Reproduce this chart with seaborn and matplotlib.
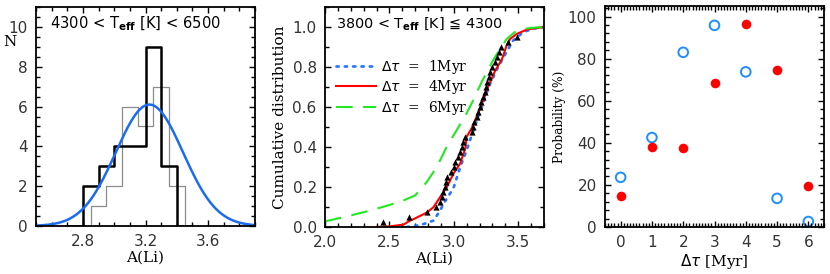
import numpy as np
import pandas as pd
import matplotlib
matplotlib.use("Agg")
import matplotlib.pyplot as plt
import seaborn as sns
from matplotlib.ticker import MultipleLocator

# ---------------- data ----------------
# Panel 1: histograms of A(Li) (empty bins at both ends close the outline)
hist_black_edges = [2.7, 2.8, 2.9, 3.0, 3.1, 3.2, 3.3, 3.4, 3.5]
hist_black_counts = [0, 2, 3, 4, 4, 9, 3, 0]
hist_gray_edges = [2.75, 2.85, 2.95, 3.05, 3.15, 3.25, 3.35, 3.45, 3.55]
hist_gray_counts = [0, 1, 2, 6, 5, 7, 2, 0]
gauss_mean = 3.225
gauss_sigma = 0.215
gauss_amp = 6.1

# Panel 2: cumulative distributions
obs_x = [2.45, 2.65, 2.79, 2.865, 2.89, 2.905, 2.915, 2.93, 2.94, 2.95,
         2.975, 3.00, 3.01, 3.03, 3.045, 3.06, 3.07, 3.085, 3.14, 3.15,
         3.16, 3.18, 3.19, 3.20, 3.21, 3.225, 3.24, 3.25, 3.26, 3.27,
         3.28, 3.295, 3.32, 3.335, 3.35, 3.365, 3.42, 3.49]
obs_y = [0.025, 0.05, 0.075, 0.10, 0.125, 0.15, 0.175, 0.20, 0.225, 0.25,
         0.275, 0.30, 0.325, 0.35, 0.375, 0.40, 0.425, 0.45, 0.475, 0.50,
         0.525, 0.55, 0.575, 0.60, 0.625, 0.65, 0.675, 0.70, 0.725, 0.75,
         0.775, 0.80, 0.825, 0.85, 0.875, 0.90, 0.925, 0.95]

cdf1_x = [2.635, 2.70, 2.765, 2.842, 2.894, 2.92, 2.97, 3.00, 3.05, 3.10,
          3.14, 3.18, 3.23, 3.27, 3.335, 3.40, 3.46, 3.54, 3.62, 3.70]
cdf1_y = [0.0, 0.005, 0.015, 0.032, 0.082, 0.116, 0.167, 0.20, 0.30, 0.385,
          0.461, 0.537, 0.621, 0.70, 0.789, 0.865, 0.932, 0.975, 0.992, 1.0]

cdf4_x = [2.40, 2.50, 2.61, 2.66, 2.69, 2.79, 2.842, 2.894, 2.946, 2.998,
          3.05, 3.089, 3.10, 3.14, 3.19, 3.24, 3.257, 3.32, 3.374, 3.41,
          3.436, 3.49, 3.57, 3.70]
cdf4_y = [0.0, 0.003, 0.012, 0.032, 0.040, 0.072, 0.099, 0.150, 0.20, 0.268,
          0.318, 0.394, 0.452, 0.495, 0.571, 0.654, 0.688, 0.78, 0.84, 0.907,
          0.94, 0.966, 0.988, 1.0]

cdf6_x = [2.0, 2.15, 2.35, 2.50, 2.61, 2.70, 2.79, 2.87, 2.946, 3.024,
          3.10, 3.14, 3.22, 3.31, 3.41, 3.49, 3.59, 3.70]
cdf6_y = [0.028, 0.050, 0.082, 0.110, 0.133, 0.158, 0.225, 0.302, 0.403, 0.486,
          0.570, 0.620, 0.73, 0.84, 0.94, 0.983, 0.995, 1.0]

# Panel 3: probabilities
dtau = [0, 1, 2, 3, 4, 5, 6]
prob_open = [23.6, 42.5, 83.0, 95.8, 73.7, 13.6, 2.6]
prob_filled = [14.6, 38.1, 37.3, 68.3, 96.5, 74.4, 19.7]

# ---------------- style ----------------
plt.rcParams['font.family'] = ['DejaVu Sans']
plt.rcParams['axes.linewidth'] = 1.3
plt.rcParams['xtick.direction'] = 'in'
plt.rcParams['ytick.direction'] = 'in'
plt.rcParams['xtick.minor.visible'] = True
plt.rcParams['ytick.minor.visible'] = True
TICK_COLOR = '#333333'
SERIF = ['DejaVu Serif']

fig = plt.figure(figsize=(8.30, 2.74), dpi=100)
W, H = 830.0, 274.0
def axbox(l, t, r, b):
    return [l / W, 1 - b / H, (r - l) / W, (b - t) / H]

ax1 = fig.add_axes(axbox(36, 7, 255, 226))
ax2 = fig.add_axes(axbox(325, 7, 544, 227))
ax3 = fig.add_axes(axbox(605, 6, 824, 227))

def style_axes(ax, xmaj, xmin, ymaj, ymin):
    ax.minorticks_on()
    ax.xaxis.set_major_locator(MultipleLocator(xmaj))
    ax.xaxis.set_minor_locator(MultipleLocator(xmin))
    ax.yaxis.set_major_locator(MultipleLocator(ymaj))
    ax.yaxis.set_minor_locator(MultipleLocator(ymin))
    ax.tick_params(which='both', direction='in', top=True, right=True,
                   bottom=True, left=True, colors='black', labelcolor=TICK_COLOR,
                   labelsize=11)
    ax.tick_params(which='major', length=4.0, width=1.0, pad=6)
    ax.tick_params(which='minor', length=2.6, width=1.0)
    for s in ax.spines.values():
        s.set_visible(True)
        s.set_color('black')
        s.set_linewidth(1.3)
    ax.grid(False)
    ax.set_facecolor('white')

# ---------------- panel 1 ----------------
bc = [(a + b) / 2 for a, b in zip(hist_black_edges[:-1], hist_black_edges[1:])]
gc = [(a + b) / 2 for a, b in zip(hist_gray_edges[:-1], hist_gray_edges[1:])]
df_b = pd.DataFrame({'x': bc, 'w': hist_black_counts})
df_g = pd.DataFrame({'x': gc, 'w': hist_gray_counts})
sns.histplot(data=df_g, x='x', weights='w', bins=hist_gray_edges, element='step',
             fill=False, color='#8c8c8c', linewidth=0.9, ax=ax1)
sns.histplot(data=df_b, x='x', weights='w', bins=hist_black_edges, element='step',
             fill=False, color='black', linewidth=1.8, ax=ax1)
gx = np.linspace(2.5, 3.9, 300)
gy = gauss_amp * np.exp(-0.5 * ((gx - gauss_mean) / gauss_sigma) ** 2)
sns.lineplot(x=gx, y=gy, color='#1a6cf0', linewidth=1.8, ax=ax1)
ax1.set_xlim(2.5, 3.9)
ax1.set_ylim(0, 11)
style_axes(ax1, 0.4, 0.1, 2, 0.5)
ax1.set_xticks([2.8, 3.2, 3.6])
ax1.set_xlabel('A(Li)', family=SERIF, fontsize=11, labelpad=1)
ax1.set_ylabel('')
ax1.text(-0.118, 0.84, 'N', transform=ax1.transAxes, family=SERIF, fontsize=11,
         ha='center', va='center')
ax1.text(0.066, 0.925, r'4300 < T$_{\mathbf{eff}}$ [K] < 6500', transform=ax1.transAxes,
         ha='left', va='center', fontsize=10.6)

# ---------------- panel 2 ----------------
sns.lineplot(x=cdf1_x, y=cdf1_y, color='#2a78ff', linewidth=2.0, linestyle=(0, (0.8, 2.2)),
             dash_capstyle='round', ax=ax2, label=r'$\Delta\tau$  =  1Myr', sort=False)
sns.lineplot(x=cdf4_x, y=cdf4_y, color='#ff0000', linewidth=1.5, ax=ax2,
             label=r'$\Delta\tau$  =  4Myr', sort=False)
sns.lineplot(x=cdf6_x, y=cdf6_y, color='#22e822', linewidth=1.5, linestyle=(0, (8, 5)),
             ax=ax2, label=r'$\Delta\tau$  =  6Myr', sort=False)
sns.scatterplot(x=obs_x, y=obs_y, marker='^', color='black', s=20, linewidth=0,
                ax=ax2, zorder=3)
ax2.set_xlim(2.0, 3.7)
ax2.set_ylim(0, 1.1)
style_axes(ax2, 0.5, 0.1, 0.2, 0.1)
ax2.set_xlabel('A(Li)', family=SERIF, fontsize=11, labelpad=1)
ax2.set_ylabel('Cumulative distribution', family=SERIF, fontsize=11, labelpad=4)
ax2.text(0.052, 0.925, r'3800 < T$_{\mathbf{eff}}$ [K] ≦ 4300', transform=ax2.transAxes,
         ha='left', va='center', fontsize=10.4)
leg = ax2.legend(loc='upper left', bbox_to_anchor=(0.05, 0.77), frameon=False,
                 handlelength=2.9, handletextpad=0.35, labelspacing=0.18,
                 borderaxespad=0, borderpad=0, prop={'family': SERIF, 'size': 10})

# ---------------- panel 3 ----------------
sns.scatterplot(x=dtau, y=prob_open, marker='o', s=48, facecolor='none',
                edgecolor='#1e8fff', linewidth=1.4, ax=ax3)
sns.scatterplot(x=dtau, y=prob_filled, marker='o', s=48, color='#ff0000',
                linewidth=0, ax=ax3)
ax3.set_xlim(-0.5, 6.5)
ax3.set_ylim(0, 105)
style_axes(ax3, 1, 0.1, 20, 4)
ax3.set_xlabel(r'$\Delta\tau$ [Myr]', family=SERIF, fontsize=11, labelpad=1)
ax3.set_ylabel('Probability (%)', family=SERIF, fontsize=8.7, labelpad=1)

fig.savefig('out.png', dpi=100)
